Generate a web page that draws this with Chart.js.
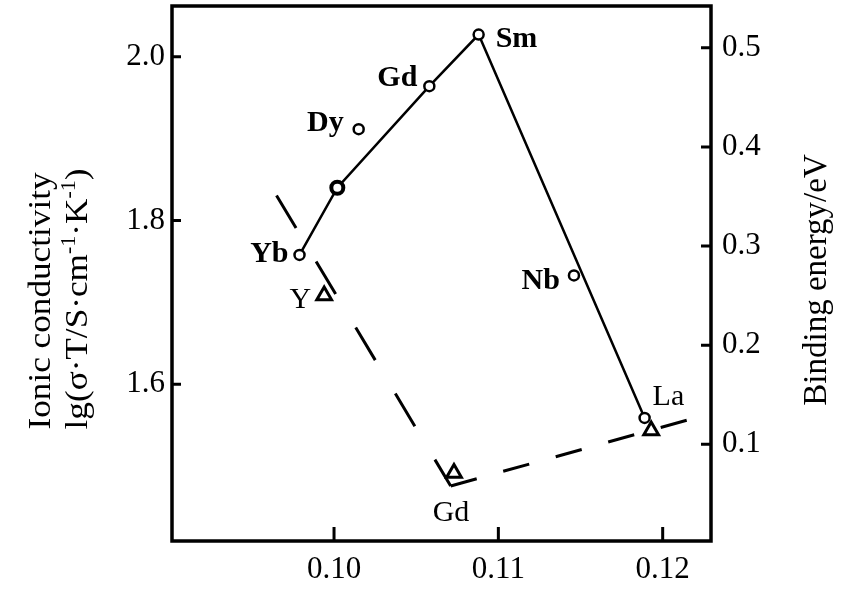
<!DOCTYPE html>
<html>
<head>
<meta charset="utf-8">
<script src="https://cdn.jsdelivr.net/npm/chart.js@4"></script>
<style>
  body { margin: 0; background: #fff; }
</style>
</head>
<body>
<canvas id="grafico" width="863" height="591"></canvas>
<script>
// eixos
const xTicks = [0.10, 0.11, 0.12];
const xTickLabels = ["0.10", "0.11", "0.12"];
const leftTicks = [1.6, 1.8, 2.0];
const leftTickLabels = ["1.6", "1.8", "2.0"];
const rightTicks = [0.1, 0.2, 0.3, 0.4, 0.5];
const rightTickLabels = ["0.1", "0.2", "0.3", "0.4", "0.5"];

// condutividade (circulos, eixo esquerdo) - curva
const condNames = ["Yb", "", "Gd", "Sm", "La"];
const condX = [0.0979, 0.1002, 0.1058, 0.1088, 0.1189];
const condY = [1.758, 1.840, 1.964, 2.027, 1.559];

// condutividade - pontos fora da curva
const extraNames = ["Dy", "Nb"];
const extraX = [0.1015, 0.1146];
const extraY = [1.9115, 1.733];

// energia de ligacao (triangulos, eixo direito)
const bindNames = ["Y", "Gd", ""];
const bindX = [0.0994, 0.1073, 0.1193];
const bindY = [0.250, 0.071, 0.114];

// linha tracejada da energia de ligacao
const trendX = [0.0965, 0.1071, 0.1215];
const trendY = [0.351, 0.058, 0.1245];

const SERIF = '"Liberation Serif", "Times New Roman", serif';

// deslocamento dos rotulos em relacao ao ponto (px)
const labelOffsets = {
    0: [[-11, 7, "right", true], null, [-12, 0, "right", true], [17, 12, "left", true], [8, -13, "left", false]],
    1: [[-15, 2, "right", true], [-14, 14, "right", true]],
    2: [[-13, 12, "right", false], [-3, 48, "center", false], null],
};

function drawRich(ctx, parts, size) {
    // texto com sobrescritos, centrado em (0,0)
    const big = "normal " + size + "px " + SERIF;
    const small = "normal " + Math.round(size * 0.62) + "px " + SERIF;
    let total = 0;
    parts.forEach((p) => {
        ctx.font = p.sup ? small : big;
        p.w = ctx.measureText(p.t).width;
        total += p.w;
    });
    let x = -total / 2;
    ctx.textAlign = "left";
    parts.forEach((p) => {
        ctx.font = p.sup ? small : big;
        ctx.fillText(p.t, x, p.sup ? -size * 0.38 : 0);
        x += p.w;
    });
}

// tamanho fixo dos eixos, sem folga extra dos rotulos
function fixar(tamanho) {
    return (s) => {
        if (s.isHorizontal()) s.height = tamanho;
        else s.width = tamanho;
        s.paddingTop = 0;
        s.paddingBottom = 0;
        s.paddingLeft = 0;
        s.paddingRight = 0;
    };
}

const moldura = {
    id: "moldura",
    afterDatasetsDraw(chart) {
        const { ctx, chartArea: a, scales } = chart;
        ctx.save();
        ctx.strokeStyle = "#000";
        ctx.lineWidth = 3.5;
        ctx.strokeRect(a.left, a.top, a.right - a.left, a.bottom - a.top);

        // ticks para dentro
        ctx.lineWidth = 3;
        ctx.beginPath();
        scales.x.ticks.forEach((t) => {
            const px = scales.x.getPixelForValue(t.value);
            ctx.moveTo(px, a.bottom);
            ctx.lineTo(px, a.bottom - 14);
        });
        scales.yL.ticks.forEach((t) => {
            const py = scales.yL.getPixelForValue(t.value);
            ctx.moveTo(a.left, py);
            ctx.lineTo(a.left + 9, py);
        });
        scales.yR.ticks.forEach((t) => {
            const py = scales.yR.getPixelForValue(t.value);
            ctx.moveTo(a.right, py);
            ctx.lineTo(a.right - 10, py);
        });
        ctx.stroke();

        // rotulos dos pontos
        const nomes = { 0: condNames, 1: extraNames, 2: bindNames };
        ctx.fillStyle = "#000";
        ctx.textBaseline = "alphabetic";
        Object.keys(labelOffsets).forEach((di) => {
            const meta = chart.getDatasetMeta(Number(di));
            labelOffsets[di].forEach((o, j) => {
                if (!o || !nomes[di][j]) return;
                const el = meta.data[j];
                ctx.font = (o[3] ? "bold " : "normal ") + "30px " + SERIF;
                ctx.textAlign = o[2];
                ctx.fillText(nomes[di][j], el.x + o[0], el.y + o[1]);
            });
        });
        ctx.restore();
    },
    afterDraw(chart) {
        const { ctx } = chart;
        ctx.save();
        ctx.fillStyle = "#000";
        ctx.textBaseline = "alphabetic";

        ctx.save();
        ctx.translate(50, 301);
        ctx.rotate(-Math.PI / 2);
        ctx.scale(1.1, 1);
        ctx.font = "normal 32px " + SERIF;
        ctx.textAlign = "center";
        ctx.fillText("Ionic conductivity", 0, 0);
        ctx.restore();

        ctx.save();
        ctx.translate(87, 299);
        ctx.rotate(-Math.PI / 2);
        ctx.scale(1.1, 1);
        drawRich(ctx, [
            { t: "lg(σ·T/S·cm" }, { t: "-1", sup: true },
            { t: "·K" }, { t: "-1", sup: true }, { t: ")" }
        ], 32);
        ctx.restore();

        ctx.save();
        ctx.translate(826, 280);
        ctx.rotate(-Math.PI / 2);
        ctx.font = "normal 33px " + SERIF;
        ctx.textAlign = "center";
        ctx.fillText("Binding energy/eV", 0, 0);
        ctx.restore();

        ctx.restore();
    },
};

const tickFont = { family: SERIF, size: 31 };

new Chart(document.getElementById("grafico"), {
    type: "scatter",
    data: {
        datasets: [
            {
                label: "conductivity",
                data: condX.map((x, i) => ({ x: x, y: condY[i] })),
                yAxisID: "yL",
                showLine: true,
                borderColor: "#000",
                borderWidth: 2.5,
                pointRadius: [5, 6, 5, 5, 5],
                pointBorderWidth: [2.5, 4, 2.5, 2.5, 2.5],
                pointBackgroundColor: "#fff",
                pointBorderColor: "#000",
            },
            {
                label: "conductivity (others)",
                data: extraX.map((x, i) => ({ x: x, y: extraY[i] })),
                yAxisID: "yL",
                pointRadius: 5,
                pointBorderWidth: 2.5,
                pointBackgroundColor: "#fff",
                pointBorderColor: "#000",
            },
            {
                label: "binding energy",
                data: bindX.map((x, i) => ({ x: x, y: bindY[i] })),
                yAxisID: "yR",
                pointStyle: "triangle",
                pointRadius: 8.5,
                pointBorderWidth: 3,
                pointBackgroundColor: "#fff",
                pointBorderColor: "#000",
            },
            {
                label: "binding energy trend",
                data: trendX.map((x, i) => ({ x: x, y: trendY[i] })),
                yAxisID: "yR",
                showLine: true,
                borderColor: "#000",
                borderWidth: 3,
                pointRadius: 0,
                segment: {
                    borderDash: (c) => (c.p0DataIndex === 0 ? [38, 39] : [27, 27.5]),
                },
            },
        ],
    },
    options: {
        responsive: false,
        animation: false,
        events: [],
        layout: { padding: { top: 6, left: 0, right: 0, bottom: 0 }, autoPadding: false },
        plugins: { legend: { display: false }, tooltip: { enabled: false } },
        scales: {
            x: {
                type: "linear",
                min: 0.09014,
                max: 0.12294,
                afterBuildTicks: (s) => { s.ticks = xTicks.map((v) => ({ value: v })); },
                afterFit: fixar(50),
                grid: { display: false, drawTicks: false },
                border: { display: false },
                ticks: {
                    color: "#000",
                    font: tickFont,
                    padding: 10,
                    maxRotation: 0,
                    autoSkip: false,
                    callback: (v) => xTickLabels[xTicks.indexOf(v)],
                },
            },
            yL: {
                type: "linear",
                position: "left",
                min: 1.4087,
                max: 2.0619,
                afterBuildTicks: (s) => { s.ticks = leftTicks.map((v) => ({ value: v })); },
                afterFit: fixar(172),
                grid: { display: false, drawTicks: false },
                border: { display: false },
                ticks: {
                    color: "#000",
                    font: tickFont,
                    padding: 7,
                    autoSkip: false,
                    callback: (v) => leftTickLabels[leftTicks.indexOf(v)],
                },
            },
            yR: {
                type: "linear",
                position: "right",
                min: 0.00247,
                max: 0.5421,
                afterBuildTicks: (s) => { s.ticks = rightTicks.map((v) => ({ value: v })); },
                afterFit: fixar(152),
                grid: { display: false, drawTicks: false },
                border: { display: false },
                ticks: {
                    color: "#000",
                    font: tickFont,
                    padding: 11,
                    autoSkip: false,
                    callback: (v) => rightTickLabels[rightTicks.indexOf(v)],
                },
            },
        },
    },
    plugins: [moldura],
});
</script>
</body>
</html>
